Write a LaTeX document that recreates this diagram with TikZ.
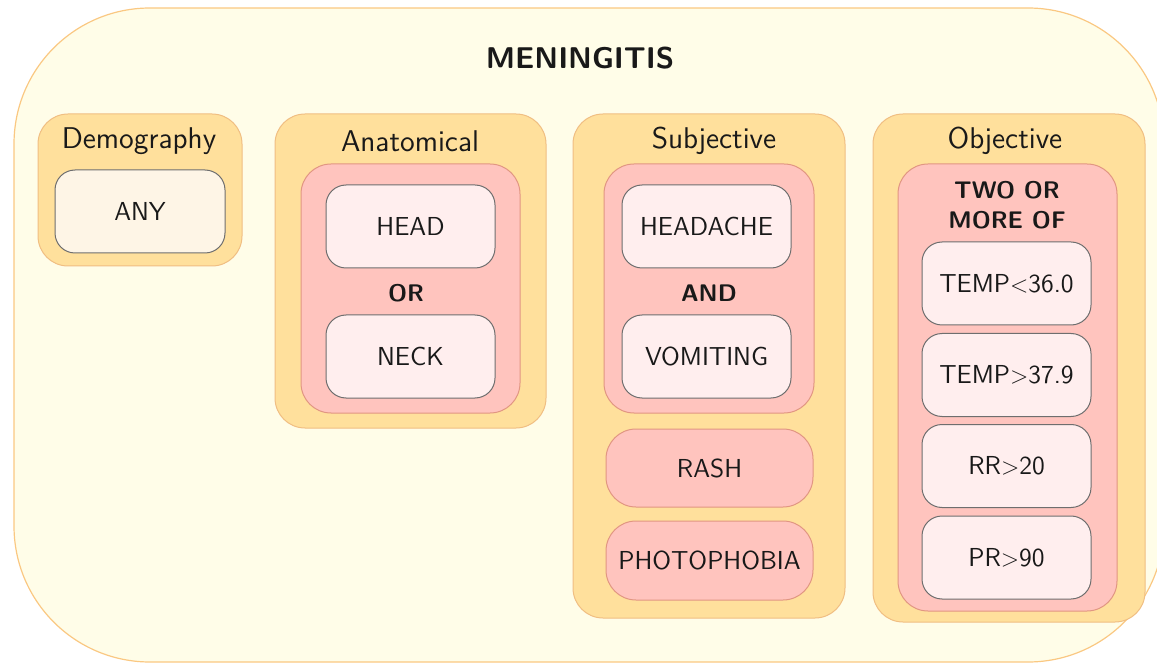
\documentclass[tikz,border=0pt]{standalone}
\usepackage{tikz}
\definecolor{outerfill}{RGB}{255,253,232}
\definecolor{outerline}{RGB}{250,200,130}
\definecolor{catfill}{RGB}{255,224,156}
\definecolor{catline}{RGB}{240,190,130}
\definecolor{redfill}{RGB}{255,196,190}
\definecolor{redline}{RGB}{225,150,130}
\definecolor{itemfill}{RGB}{255,238,238}
\definecolor{anyfill}{RGB}{254,245,230}
\definecolor{itemline}{RGB}{110,110,110}
\definecolor{txt}{RGB}{25,25,25}

\begin{document}
\begin{tikzpicture}[x=0.5pt, y=-0.5pt,
					outerbox/.style={draw=outerline, fill=outerfill, rounded corners=68pt, line width=0.6pt},
					catbox/.style={draw=catline, fill=catfill, rounded corners=15pt, line width=0.5pt, inner sep=0pt},
					redbox/.style={draw=redline, fill=redfill, rounded corners=15pt, line width=0.5pt, inner sep=0pt},
					itembox/.style={draw=itemline, fill=itemfill, rounded corners=10pt, line width=0.5pt,
						minimum width=84.5pt, minimum height=41.5pt, inner sep=0pt, font=\sffamily\fontsize{13}{15}\selectfont, text=txt},
					header/.style={font=\sffamily\fontsize{15}{17}\selectfont, text=txt},
					logic/.style={font=\sffamily\bfseries\fontsize{12}{14}\selectfont, text=txt, align=center}]
					%Bildbereich
					\useasboundingbox (0,0) rectangle (1157,663);
					\clip (0,0) rectangle (1157,663);
					% Rahmen
					\draw[outerbox] (14,8) rectangle (1164,662);
					\node[font=\sffamily\bfseries\fontsize{15}{17}\selectfont, text=txt] (title) at (580,58) {MENINGITIS};
					% Demography
					\node[catbox, minimum width=102pt, minimum height=76pt] (demo) at (140,190) {};
					\node[header] (demohead) at (139,141) {Demography};
					\node[itembox, fill=anyfill, minimum width=85pt] (any) at (140,211.5) {ANY};
					% Anatomical
					\node[catbox, minimum width=135.5pt, minimum height=157pt] (anat) at (410.5,271) {};
					\node[header] (anathead) at (410,141) {Anatomical};
					\node[redbox, minimum width=109.5pt, minimum height=124.5pt] (anatred) at (410.5,288.5) {};
					\node[itembox] (head) at (410.5,226.5) {HEAD};
					\node[logic] (or) at (406,293) {OR};
					\node[itembox] (neck) at (410.5,356.5) {NECK};
					% Subjective
					\node[catbox, minimum width=136pt, minimum height=252pt] (subj) at (709,366) {};
					\node[header] (subjhead) at (714,141) {Subjective};
					\node[redbox, minimum width=105pt, minimum height=124.5pt] (subjred) at (709,288.5) {};
					\node[itembox] (headache) at (706.5,226.5) {HEADACHE};
					\node[logic] (and) at (709,293) {AND};
					\node[itembox] (vomit) at (706.5,356.5) {VOMITING};
					\node[redbox, minimum width=103.5pt, minimum height=39pt, font=\sffamily\fontsize{13}{15}\selectfont, text=txt] (rash) at (709.5,468) {RASH};
					\node[redbox, minimum width=103.5pt, minimum height=39.5pt, font=\sffamily\fontsize{13}{15}\selectfont, text=txt] (photo) at (709.5,560.5) {PHOTOPHOBIA};
					% Objective
					\node[catbox, minimum width=136pt, minimum height=254pt] (obj) at (1009,368) {};
					\node[header] (objhead) at (1005,141) {Objective};
					\node[redbox, minimum width=109.5pt, minimum height=223.5pt] (objred) at (1007.5,387.5) {};
					\node[logic, font=\sffamily\bfseries\fontsize{12}{15}\selectfont] (twoormore) at (1007,205) {TWO OR\\MORE OF};
					\node[itembox] (templow) at (1006.5,283.5) {TEMP$<$36.0};
					\node[itembox] (temphigh) at (1006.5,375) {TEMP$>$37.9};
					\node[itembox] (rr) at (1006.5,466) {RR$>$20};
					\node[itembox] (pr) at (1006.5,557.5) {PR$>$90};
				\end{tikzpicture}
\end{document}
